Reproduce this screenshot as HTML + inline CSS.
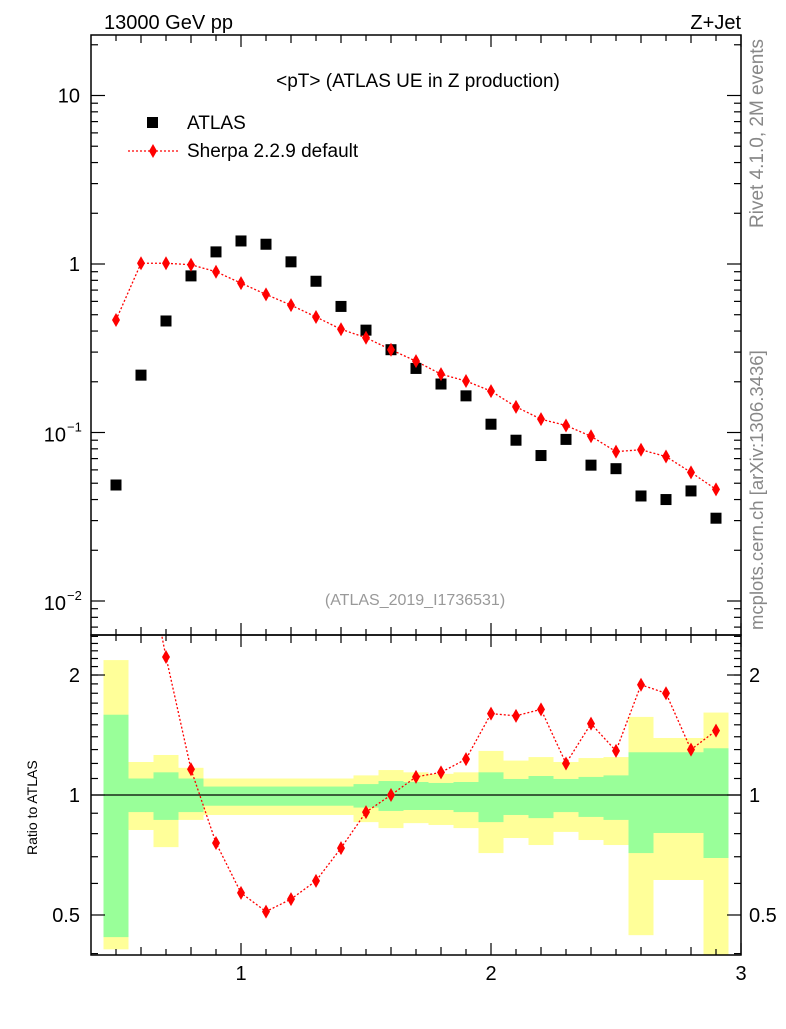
<!DOCTYPE html>
<html><head><meta charset="utf-8"><style>
body{margin:0;background:#fff;}
svg text{font-family:"Liberation Sans",sans-serif;}
</style></head><body>
<svg id="c" width="786" height="1024" xmlns="http://www.w3.org/2000/svg">
<g id="bands"></g>
<g id="axes"></g>
<g id="series"></g>
<text x="104" y="29" font-size="20">13000 GeV pp</text>
<text x="741" y="29" font-size="20" text-anchor="end">Z+Jet</text>
<text x="418" y="87" font-size="19" text-anchor="middle">&lt;pT&gt; (ATLAS UE in Z production)</text>
<rect x="147" y="117" width="11" height="11" fill="#000"/>
<text x="187" y="129" font-size="19">ATLAS</text>
<line x1="128" y1="151" x2="178" y2="151" stroke="red" stroke-dasharray="2,2" stroke-width="1.3"/>
<path d="M153,144 L157,151 L153,158 L149,151Z" fill="red"/>
<text x="187" y="157" font-size="19">Sherpa 2.2.9 default</text>
<text x="415" y="605" font-size="16" fill="#999" text-anchor="middle">(ATLAS_2019_I1736531)</text>
<text transform="translate(763,228) rotate(-90)" font-size="19" fill="#888">Rivet 4.1.0,  2M events</text>
<text transform="translate(763,630) rotate(-90)" font-size="18.5" fill="#888">mcplots.cern.ch [arXiv:1306.3436]</text>
<text transform="translate(37,855) rotate(-90)" font-size="14">Ratio to ATLAS</text>
</svg>
<script>
const xs=[0.5,0.6,0.7,0.8,0.9,1.0,1.1,1.2,1.3,1.4,1.5,1.6,1.7,1.8,1.9,2.0,2.1,2.2,2.3,2.4,2.5,2.6,2.7,2.8,2.9];
const atlas=[0.0488,0.219,0.459,0.85,1.18,1.37,1.31,1.03,0.79,0.56,0.405,0.31,0.24,0.194,0.165,0.112,0.09,0.073,0.091,0.064,0.061,0.042,0.040,0.045,0.031];
const sherpa=[0.465,1.01,1.01,0.99,0.9,0.77,0.66,0.57,0.485,0.41,0.365,0.31,0.265,0.222,0.202,0.176,0.142,0.12,0.11,0.095,0.077,0.079,0.072,0.058,0.046];
const ratio=[9.5,4.6,2.22,1.16,0.758,0.568,0.51,0.548,0.609,0.736,0.906,1.0,1.11,1.14,1.23,1.6,1.58,1.64,1.2,1.51,1.29,1.89,1.8,1.3,1.45];
const yHi=[2.18,1.21,1.26,1.17,1.10,1.10,1.10,1.10,1.10,1.10,1.12,1.155,1.14,1.13,1.14,1.29,1.22,1.245,1.21,1.238,1.245,1.57,1.39,1.39,1.61];
const yLo=[0.41,0.817,0.74,0.866,0.891,0.891,0.891,0.891,0.891,0.891,0.855,0.826,0.85,0.841,0.826,0.715,0.78,0.749,0.808,0.771,0.749,0.445,0.612,0.612,0.397];
const gHi=[1.59,1.10,1.14,1.10,1.05,1.05,1.05,1.05,1.05,1.05,1.065,1.084,1.078,1.072,1.078,1.14,1.097,1.116,1.097,1.11,1.12,1.28,1.28,1.28,1.31];
const gLo=[0.44,0.906,0.866,0.906,0.94,0.94,0.94,0.94,0.94,0.94,0.93,0.912,0.917,0.917,0.906,0.855,0.891,0.875,0.906,0.881,0.866,0.715,0.803,0.803,0.695];
const xTicks=[1,2,3];
const ns="http://www.w3.org/2000/svg";
const L=91,R=741,T=35,M=635,B=955;
const X=v=>L+(v-0.4)*(R-L)/2.6;
const Y=v=>264-168.5*Math.log10(v);
const YR=v=>795-398.6*Math.log10(v);
function mk(par,tag,at){const e=document.createElementNS(ns,tag);for(const k in at)e.setAttribute(k,at[k]);document.getElementById(par).appendChild(e);return e;}
const cl=(v,a,b)=>Math.max(a,Math.min(b,v));
xs.forEach((x,i)=>{
 const x0=X(x-0.05),x1=X(x+0.05);
 let e=mk('bands','rect',{x:x0,y:cl(YR(yHi[i]),M,B),width:x1-x0,height:cl(YR(yLo[i]),M,B)-cl(YR(yHi[i]),M,B),fill:'#ffff99'});
 
 
 e=mk('bands','rect',{x:x0,y:cl(YR(gHi[i]),M,B),width:x1-x0,height:cl(YR(gLo[i]),M,B)-cl(YR(gHi[i]),M,B),fill:'#99ff99'});
 
 
});
[[T,M],[M,B]].forEach(([a,b])=>{const e=mk('axes','rect',{x:L,y:a,width:R-L,height:b-a,fill:'none',stroke:'#000','stroke-width':1.5});
 
 });
let ln=mk('axes','line',{x1:L,x2:R,y1:YR(1),y2:YR(1),stroke:'#000','stroke-width':1.2});


for(let k=5;k<=30;k++){const v=k/10,x=X(v);const len=(k%10==0)?12:(k%2==0?8:6);
 [[M,-1],[B,-1],[T,1],[M,1]].forEach(([y,d])=>{mk('axes','line',{x1:x,x2:x,y1:y,y2:y+d*len,stroke:'#000','stroke-width':1.2});});}
xTicks.forEach(t=>{const e=mk('axes','text',{x:X(t),y:980,'font-size':20,'text-anchor':'middle'});e.textContent=t;
 
 });
for(let d=-3;d<=1;d++)for(let m=1;m<10;m++){const v=m*Math.pow(10,d),y=Y(v);if(y<T||y>M)continue;const len=m==1?14:7;
 mk('axes','line',{x1:L,x2:L+len,y1:y,y2:y,stroke:'#000','stroke-width':1.2});
 mk('axes','line',{x1:R,x2:R-len,y1:y,y2:y,stroke:'#000','stroke-width':1.2});}
[[10,'10'],[1,'1']].forEach(([v,s])=>{const e=mk('axes','text',{x:80,y:Y(v)+7,'font-size':20,'text-anchor':'end'});e.textContent=s;
 
 });
[[0.1,'−1'],[0.01,'−2']].forEach(([v,s])=>{const e=mk('axes','text',{x:66,y:Y(v)+9,'font-size':20,'text-anchor':'end'});e.textContent='10';
 
 
 const f=mk('axes','text',{x:67,y:Y(v)-1,'font-size':13});f.textContent=s;
 
 });
[0.4,0.5,0.6,0.7,0.8,0.9,1,2].forEach(v=>{const y=YR(v);const len=(v==0.5||v==1||v==2)?14:7;
 mk('axes','line',{x1:L,x2:L+len,y1:y,y2:y,stroke:'#000','stroke-width':1.2});
 mk('axes','line',{x1:R,x2:R-len,y1:y,y2:y,stroke:'#000','stroke-width':1.2});});
for(let k=11;k<=25;k++){const y=YR(k/10);if(y<M)continue;mk('axes','line',{x1:L,x2:L+7,y1:y,y2:y,stroke:'#000','stroke-width':1.2});mk('axes','line',{x1:R,x2:R-7,y1:y,y2:y,stroke:'#000','stroke-width':1.2});}
[[2,'2'],[1,'1'],[0.5,'0.5']].forEach(([v,s])=>{let e=mk('axes','text',{x:80,y:YR(v)+7,'font-size':20,'text-anchor':'end'});e.textContent=s;
 
 
 e=mk('axes','text',{x:749,y:YR(v)+7,'font-size':20});e.textContent=s;
 
 });
let p=mk('series','polyline',{points:xs.map((x,i)=>X(x)+','+Y(sherpa[i])).join(' '),fill:'none',stroke:'red','stroke-dasharray':'2,2','stroke-width':1.3});


xs.forEach((x,i)=>{const e=mk('series','rect',{x:X(x)-5.5,y:Y(atlas[i])-5.5,width:11,height:11,fill:'#000'});
 
 
 const cx=X(x),cy=Y(sherpa[i]);const d=mk('series','path',{d:`M${cx},${cy-7}L${cx+4},${cy}L${cx},${cy+7}L${cx-4},${cy}Z`,fill:'red'});
 
 });
mk('series','clipPath',{id:'rc'});mk('rc','rect',{x:L,y:M,width:R-L,height:B-M});
p=mk('series','polyline',{points:xs.map((x,i)=>X(x)+','+YR(ratio[i])).join(' '),fill:'none',stroke:'red','stroke-dasharray':'2,2','stroke-width':1.3,'clip-path':'url(#rc)'});


xs.forEach((x,i)=>{const cx=X(x),cy=YR(ratio[i]);if(cy<M)return;
 const d=mk('series','path',{d:`M${cx},${cy-7}L${cx+4},${cy}L${cx},${cy+7}L${cx-4},${cy}Z`,fill:'red'});
 
 });
</script>
</body></html>
